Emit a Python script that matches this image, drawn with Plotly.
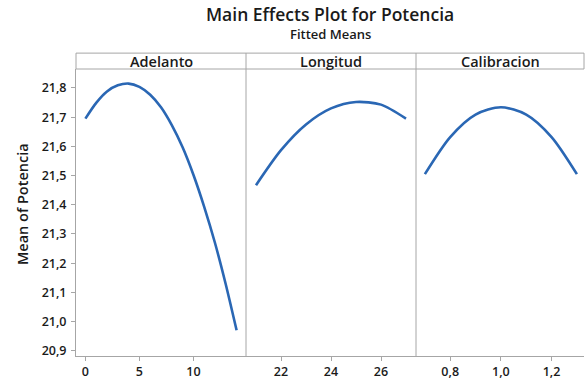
import plotly.graph_objects as go

# Data (fitted means)
adelanto_x = [0, 1, 2, 3, 4, 5, 6, 7, 8, 9, 10, 11, 12, 13, 14]
adelanto_y = [21.695, 21.749, 21.788, 21.809, 21.815, 21.804, 21.777, 21.734, 21.673, 21.597, 21.503, 21.393, 21.269, 21.127, 20.970]

longitud_x = [21, 22, 23, 24, 25, 26, 27]
longitud_y = [21.467, 21.587, 21.675, 21.730, 21.752, 21.743, 21.695]

calib_x = [0.7, 0.8, 0.9, 1.0, 1.1, 1.2, 1.3]
calib_y = [21.505, 21.632, 21.709, 21.734, 21.709, 21.632, 21.505]

panel_titles = ["Adelanto", "Longitud", "Calibracion"]
x_ticks = [[0, 5, 10], [22, 24, 26], [0.8, 1.0, 1.2]]
x_ticktext = [["0", "5", "10"], ["22", "24", "26"], ["0,8", "1,0", "1,2"]]
y_ticks = [20.9, 21.0, 21.1, 21.2, 21.3, 21.4, 21.5, 21.6, 21.7, 21.8]
y_ticktext = ["20,9", "21,0", "21,1", "21,2", "21,3", "21,4", "21,5", "21,6", "21,7", "21,8"]

W, H = 585, 381
ML, MR, MT, MB = 76, 1, 69, 23
PW = W - ML - MR
PH = H - MT - MB

FONT = "Open Sans"
LINE_COL = "#2a67b4"
GRID_COL = "#a6a6a6"
TXT = "#1a1a1a"

def px_x(p):
    return (p - ML) / PW

def px_y(p):
    return (H - MB - p) / PH

bounds = [76, 246, 416, 584]
domains = [[px_x(bounds[i]), px_x(bounds[i + 1])] for i in range(3)]
ranges = [[-0.87, 14.87], [20.6, 27.4], [0.665, 1.328]]

fig = go.Figure()
series = [(adelanto_x, adelanto_y), (longitud_x, longitud_y), (calib_x, calib_y)]
for i, (xs, ys) in enumerate(series):
    fig.add_trace(go.Scatter(
        x=xs, y=ys, mode="lines",
        line=dict(color=LINE_COL, width=2.6, shape="spline", smoothing=0.8),
        xaxis="x" if i == 0 else f"x{i+1}", yaxis="y",
        showlegend=False, hoverinfo="skip"))

tickfont = dict(family=FONT, size=12.5, color=TXT, weight=600)
layout = dict(
    width=W, height=H,
    margin=dict(l=ML, r=MR, t=MT, b=MB, pad=0),
    paper_bgcolor="white", plot_bgcolor="white",
    yaxis=dict(range=[20.882, 21.865], tickvals=y_ticks, ticktext=y_ticktext,
               showgrid=False, zeroline=False, showline=True, linecolor=GRID_COL,
               linewidth=1, ticks="outside", ticklen=4, tickcolor=GRID_COL,
               tickfont=tickfont, anchor="x", ticklabelstandoff=2),
)
for i in range(3):
    key = "xaxis" if i == 0 else f"xaxis{i+1}"
    layout[key] = dict(domain=domains[i], range=ranges[i], tickvals=x_ticks[i],
                       ticktext=x_ticktext[i], showgrid=False, zeroline=False,
                       showline=True, linecolor=GRID_COL, linewidth=1,
                       ticks="outside", ticklen=4, tickcolor=GRID_COL,
                       tickfont=tickfont, anchor="y")
fig.update_layout(**layout)

shapes = []
ytop = px_y(53)
for yy in [ytop, 1.0]:
    shapes.append(dict(type="line", xref="paper", yref="paper", x0=0, x1=1, y0=yy, y1=yy,
                       line=dict(color=GRID_COL, width=1)))
for b in bounds:
    y0 = 1.0 if b in (76, 584) else 0
    shapes.append(dict(type="line", xref="paper", yref="paper", x0=px_x(b), x1=px_x(b),
                       y0=y0, y1=ytop, line=dict(color=GRID_COL, width=1)))

annotations = []
for i, t in enumerate(panel_titles):
    annotations.append(dict(text=t, xref="paper", yref="paper",
                            x=(domains[i][0] + domains[i][1]) / 2, y=px_y(61),
                            showarrow=False, xanchor="center", yanchor="middle",
                            font=dict(family=FONT, size=14.5, color=TXT, weight=600)))
annotations.append(dict(text="Main Effects Plot for Potencia", xref="paper", yref="paper",
                        x=px_x(330), y=px_y(14), showarrow=False, xanchor="center",
                        yanchor="middle",
                        font=dict(family=FONT, size=17.5, color=TXT, weight=600)))
annotations.append(dict(text="Fitted Means", xref="paper", yref="paper",
                        x=px_x(330), y=px_y(34), showarrow=False, xanchor="center",
                        yanchor="middle",
                        font=dict(family=FONT, size=13, color=TXT, weight=600)))
annotations.append(dict(text="Mean of Potencia", xref="paper", yref="paper",
                        x=px_x(22), y=px_y(205), showarrow=False, xanchor="center",
                        yanchor="middle", textangle=-90,
                        font=dict(family=FONT, size=14.5, color=TXT, weight=600)))
fig.update_layout(shapes=shapes, annotations=annotations)

fig.write_html("out.html")
